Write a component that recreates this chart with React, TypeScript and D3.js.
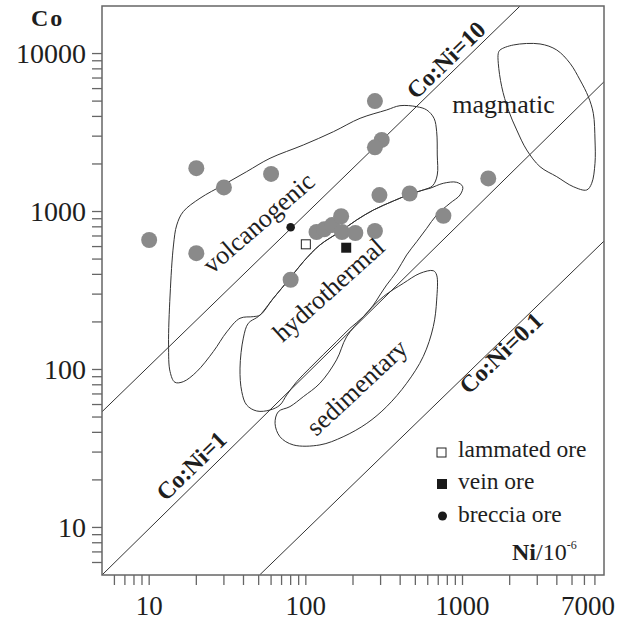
import React from 'react';
import * as d3 from 'd3';

const W = 635;
const H = 622;
const PLOT = { left: 102, top: 6, right: 604, bottom: 575 };

// Axis domains (Ni on x, Co on y, log scales)
const xDomain: [number, number] = [5, 8000];
const yDomain: [number, number] = [5, 20000];

const xTickValues = [6, 7, 8, 9, 10, 20, 30, 40, 50, 60, 70, 80, 90, 100, 200, 300, 400, 500, 600, 700, 800, 900, 1000, 2000, 3000, 4000, 5000, 6000, 7000];
const xTickLabels = [10, 100, 1000, 7000];
const yTickValues = [6, 7, 8, 9, 10, 20, 30, 40, 50, 60, 70, 80, 90, 100, 200, 300, 400, 500, 600, 700, 800, 900, 1000, 2000, 3000, 4000, 5000, 6000, 7000, 8000, 9000, 10000];
const yTickLabels = [10, 100, 1000, 10000];

// Literature data (grey dots): Ni, Co in ppm
const litNi = [10, 20, 20, 30, 60, 80, 276, 305, 276, 295, 460, 755, 1460, 117, 131, 147, 168, 170, 207, 276];
const litCo = [660, 1880, 545, 1420, 1730, 370, 5000, 2840, 2550, 1270, 1300, 940, 1620, 742, 771, 821, 933, 742, 731, 753];

// Ore samples
const lammatedNi = [100];
const lammatedCo = [620];
const veinNi = [181];
const veinCo = [590];
const brecciaNi = [80];
const brecciaCo = [795];

// Field outlines [Ni, Co]
const volcanogenicOutline: [number, number][] = [
  [16.5, 998], [21.1, 1213], [29.7, 1472], [41.9, 1788], [59.1, 2173], [96.4, 2638], [150, 3202], [222, 3892],
  [328, 4394], [399, 4677], [510, 4610], [591, 4394], [658, 3892], [684, 3202], [690, 2280], [690, 1703], [645, 1457],
  [562, 1369], [462, 1286], [362, 1166], [270, 1022], [211, 884], [165, 745], [123, 614], [96.4, 481], [79.2, 378],
  [62, 282], [51, 221], [46.2, 216],
  [38, 211], [31.3, 173], [25.7, 130], [20.1, 96.8], [16.5, 83.7], [14.6, 83], [13.6, 96.8], [13.3, 143], [13.6, 296],
  [14.3, 614], [15, 821],
];
const hydrothermalOutline: [number, number][] = [
  [48.6, 213], [51, 221], [62, 282], [79.2, 378], [96.4, 481], [123, 614], [165, 745], [211, 884], [270, 1022],
  [362, 1166], [462, 1286], [562, 1369], [620, 1403], [754, 1509], [918, 1531], [1003, 1436], [964, 1272], [832, 1128],
  [684, 951], [591, 783], [510, 644], [440, 531], [380, 416], [328, 343], [297, 296], [270, 256], [233, 216], [191, 182],
  [157, 150], [129, 124], [106, 102], [87.4, 83.7], [75.5, 69], [68.4, 59.6], [59.1, 55.4], [48.6, 54.6], [41.9, 59.6],
  [39, 72.4], [38, 102], [39.9, 158], [42.9, 196],
];
const sedimentaryOutline: [number, number][] = [
  [651, 422], [684, 396], [684, 275], [651, 187], [562, 121], [440, 81.8], [328, 58.2], [245, 45.6], [173, 37.5],
  [123, 33.3], [83.2, 33.3], [68.4, 37.5], [63.6, 45.6], [66.8, 54.1], [79.2, 58.2], [96.4, 67.3], [123, 81.8],
  [157, 115], [182, 161], [233, 216], [312, 289], [419, 351], [535, 406],
];
const magmaticOutline: [number, number][] = [
  [1736, 10530], [2110, 11330], [3124, 11500], [3994, 10530], [4855, 8677], [5623, 6805], [6353, 5334], [6837, 4186],
  [7009, 2837], [7009, 2020], [6678, 1509], [6205, 1369], [5096, 1436], [3994, 1662], [3124, 1922], [2569, 2453],
  [2218, 3283], [1961, 4394], [1779, 6170], [1692, 8677], [1692, 10040],
];

// Co:Ni reference lines (end points)
const ratioLineNames = ['Co:Ni=10', 'Co:Ni=1', 'Co:Ni=0.1'];
const ratioLineEnds: [number, number][][] = [
  [[5, 54], [2330, 20000]],
  [[5, 5], [8000, 6630]],
  [[50.7, 5], [8000, 650]],
];

// Annotation anchors (data units)
const lineLabelAnchors: [number, number][] = [[785, 9100], [18.6, 24.5], [1760, 127]];
const fieldNames = ['volcanogenic', 'hydrothermal', 'sedimentary'];
const fieldLabelAnchors: [number, number][] = [[50, 846], [140, 319], [212, 77]];
const magmaticAnchor: [number, number] = [1825, 4200];

const legendNames = ['lammated ore', 'vein ore', 'breccia ore'];

const FONT = '"Liberation Serif", "Times New Roman", serif';
const INK = '#1e1e1e';

export default function App() {
  const x = d3.scaleLog().domain(xDomain).range([PLOT.left, PLOT.right]);
  const y = d3.scaleLog().domain(yDomain).range([PLOT.bottom, PLOT.top]);

  const outline = d3
    .line<[number, number]>()
    .x((d) => x(d[0]))
    .y((d) => y(d[1]))
    .curve(d3.curveCatmullRomClosed.alpha(0.5));

  const lit = litNi.map((n, i) => [n, litCo[i]]);

  return (
    <svg
      width={W}
      height={H}
      style={{ position: 'absolute', left: 0, top: 0, background: '#fff' }}
      fontFamily={FONT}
    >
      <rect x={0} y={0} width={W} height={H} fill="#fff" />
      <defs>
        <clipPath id="plotClip">
          <rect x={PLOT.left} y={PLOT.top} width={PLOT.right - PLOT.left} height={PLOT.bottom - PLOT.top} />
        </clipPath>
      </defs>

      {/* fields */}
      <g fill="none" stroke="#333" strokeWidth={1} clipPath="url(#plotClip)">
        <path d={outline(volcanogenicOutline) || ''} />
        <path d={outline(hydrothermalOutline) || ''} />
        <path d={outline(sedimentaryOutline) || ''} />
        <path d={outline(magmaticOutline) || ''} />
      </g>

      {/* ratio lines */}
      <g stroke="#333" strokeWidth={1} clipPath="url(#plotClip)">
        {ratioLineEnds.map((e, i) => (
          <line key={i} x1={x(e[0][0])} y1={y(e[0][1])} x2={x(e[1][0])} y2={y(e[1][1])} />
        ))}
      </g>

      {/* literature points */}
      <g fill="#8a8a8a">
        {lit.map((d, i) => (
          <circle key={i} cx={x(d[0])} cy={y(d[1])} r={8} />
        ))}
      </g>

      {/* ore samples */}
      {lammatedNi.map((n, i) => (
        <rect key={'l' + i} x={x(n) - 4.5} y={y(lammatedCo[i]) - 4.5} width={9} height={9} fill="#fff" stroke="#222" strokeWidth={1} />
      ))}
      {veinNi.map((n, i) => (
        <rect key={'v' + i} x={x(n) - 5} y={y(veinCo[i]) - 5} width={10} height={10} fill="#1a1a1a" />
      ))}
      {brecciaNi.map((n, i) => (
        <circle key={'b' + i} cx={x(n)} cy={y(brecciaCo[i])} r={4.3} fill="#1a1a1a" />
      ))}

      {/* line labels */}
      {ratioLineNames.map((name, i) => (
        <text
          key={name}
          transform={`translate(${x(lineLabelAnchors[i][0])},${y(lineLabelAnchors[i][1])}) rotate(-44)`}
          textAnchor="middle"
          dominantBaseline="central"
          fontSize={24}
          fontWeight="bold"
          fill={INK}
        >
          {name}
        </text>
      ))}

      {/* field labels */}
      {fieldNames.map((name, i) => (
        <text
          key={name}
          transform={`translate(${x(fieldLabelAnchors[i][0])},${y(fieldLabelAnchors[i][1])}) rotate(${i === 0 ? -41 : i === 1 ? -42 : -43})`}
          textAnchor="middle"
          dominantBaseline="central"
          fontSize={26}
          fill={INK}
        >
          {name}
        </text>
      ))}
      <text x={x(magmaticAnchor[0])} y={y(magmaticAnchor[1])} textAnchor="middle" fontSize={26} fill={INK}>
        magmatic
      </text>

      {/* frame */}
      <rect
        x={PLOT.left}
        y={PLOT.top}
        width={PLOT.right - PLOT.left}
        height={PLOT.bottom - PLOT.top}
        fill="none"
        stroke="#666"
        strokeWidth={1.5}
      />

      {/* ticks */}
      <g stroke="#666" strokeWidth={1.3}>
        {xTickValues.map((v) => (
          <line key={v} x1={x(v)} x2={x(v)} y1={PLOT.bottom} y2={PLOT.bottom + 10} />
        ))}
        {yTickValues.map((v) => (
          <line key={v} x1={PLOT.left - 10} x2={PLOT.left} y1={y(v)} y2={y(v)} />
        ))}
      </g>
      {xTickLabels.map((v, i) => (
        <text key={v} x={x(v) - (i === xTickLabels.length - 1 ? 7 : 0)} y={615} textAnchor="middle" fontSize={27} fill={INK}>
          {v}
        </text>
      ))}
      {yTickLabels.map((v) => (
        <text key={v} x={86} y={y(v)} dy="0.35em" textAnchor="end" fontSize={28} fill={INK}>
          {v}
        </text>
      ))}

      {/* axis titles */}
      <text x={31} y={26} fontSize={24} fontWeight="bold" letterSpacing={2} fill={INK}>
        Co
      </text>
      <text x={512} y={560} fontSize={24} fill={INK}>
        <tspan fontWeight="bold">Ni</tspan>
        <tspan>/10</tspan>
        <tspan fontSize={12} dy={-11}>-6</tspan>
      </text>

      {/* legend */}
      <g fontSize={23.5} fill={INK}>
        <rect x={437} y={448} width={9} height={9} fill="#fff" stroke="#222" strokeWidth={1} />
        <text x={458} y={457}>{legendNames[0]}</text>
        <rect x={437} y={479} width={10} height={10} fill="#1a1a1a" />
        <text x={458} y={489}>{legendNames[1]}</text>
        <circle cx={442.5} cy={516} r={4.5} fill="#1a1a1a" />
        <text x={458} y={521.5}>{legendNames[2]}</text>
      </g>
    </svg>
  );
}
